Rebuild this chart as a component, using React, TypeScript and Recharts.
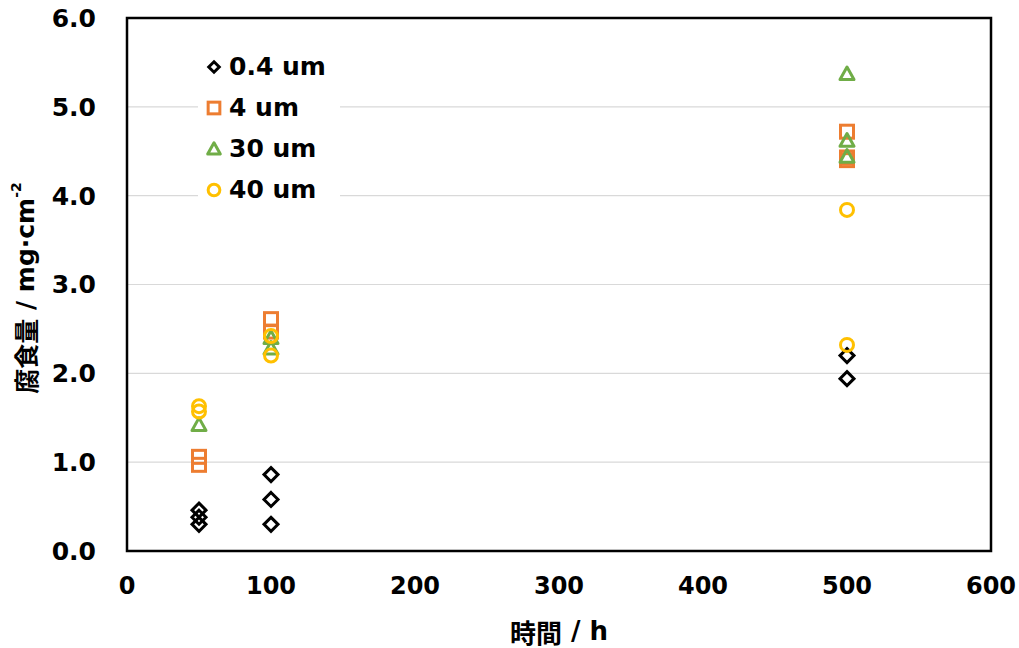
import {
  ScatterChart,
  Scatter,
  XAxis,
  YAxis,
  CartesianGrid,
  ReferenceArea,
} from "recharts";

const xTicks = [0, 100, 200, 300, 400, 500, 600];
const yTicks = [0, 1, 2, 3, 4, 5, 6];

const um04 = [
  { x: 50, y: 0.46 },
  { x: 50, y: 0.38 },
  { x: 50, y: 0.3 },
  { x: 100, y: 0.86 },
  { x: 100, y: 0.58 },
  { x: 100, y: 0.3 },
  { x: 500, y: 2.2 },
  { x: 500, y: 1.94 },
];

const um4 = [
  { x: 50, y: 1.06 },
  { x: 50, y: 0.97 },
  { x: 100, y: 2.61 },
  { x: 100, y: 2.47 },
  { x: 500, y: 4.72 },
  { x: 500, y: 4.43 },
  { x: 500, y: 4.4 },
];

const um30 = [
  { x: 50, y: 1.42 },
  { x: 100, y: 2.4 },
  { x: 100, y: 2.28 },
  { x: 500, y: 5.37 },
  { x: 500, y: 4.62 },
  { x: 500, y: 4.44 },
];

const um40 = [
  { x: 50, y: 1.63 },
  { x: 50, y: 1.57 },
  { x: 100, y: 2.42 },
  { x: 100, y: 2.2 },
  { x: 500, y: 3.84 },
  { x: 500, y: 2.32 },
];

type Kind = "diamond" | "square" | "triangle" | "circle";

const series: { name: string; data: { x: number; y: number }[]; color: string; kind: Kind }[] = [
  { name: "0.4 um", data: um04, color: "#000000", kind: "diamond" },
  { name: "4 um", data: um4, color: "#ED7D31", kind: "square" },
  { name: "30 um", data: um30, color: "#70AD47", kind: "triangle" },
  { name: "40 um", data: um40, color: "#FFC000", kind: "circle" },
];

function Marker({ cx, cy, color, kind, s = 1 }: { cx: number; cy: number; color: string; kind: Kind; s?: number }) {
  const sw = 3;
  if (kind === "diamond") {
    const r = 7 * s;
    return (
      <path
        d={`M${cx},${cy - r} L${cx + r},${cy} L${cx},${cy + r} L${cx - r},${cy} Z`}
        fill="none"
        stroke={color}
        strokeWidth={sw}
      />
    );
  }
  if (kind === "square") {
    const r = 6.5 * s;
    return <rect x={cx - r} y={cy - r} width={2 * r} height={2 * r} fill="none" stroke={color} strokeWidth={sw} />;
  }
  if (kind === "triangle") {
    const r = 7 * s;
    return (
      <path
        d={`M${cx},${cy - r} L${cx + r},${cy + r * 0.8} L${cx - r},${cy + r * 0.8} Z`}
        fill="none"
        stroke={color}
        strokeWidth={sw}
        strokeLinejoin="round"
      />
    );
  }
  return <circle cx={cx} cy={cy} r={6.5 * s} fill="none" stroke={color} strokeWidth={sw} />;
}

const latin = "'DejaVu Sans', Verdana, sans-serif";
const cjk = "'Noto Sans CJK JP', sans-serif";
const tickFont = { fontFamily: latin, fontWeight: 700, fill: "#000" };

function LegendBox() {
  return (
    <div style={{ position: "absolute", left: 198, top: 42, background: "#fff", padding: "4px 14px 4px 6px" }}>
      {series.map((s) => (
        <div key={s.name} style={{ display: "flex", alignItems: "center", height: 41 }}>
          <svg width={20} height={20} style={{ marginRight: 5 }}>
            <Marker cx={10} cy={10} color={s.color} kind={s.kind} s={s.kind === "diamond" ? 0.75 : 0.9} />
          </svg>
          <span style={{ fontFamily: latin, fontWeight: 700, fontSize: 25, color: "#000" }}>{s.name}</span>
        </div>
      ))}
    </div>
  );
}

export default function App() {
  return (
    <div style={{ position: "absolute", left: 0, top: 0, width: 1019, height: 648, background: "#fff" }}>
      <ScatterChart width={1019} height={648} margin={{ top: 18, right: 28, bottom: 0, left: 0 }}>
        <CartesianGrid vertical={false} stroke="#d9d9d9" strokeWidth={1.2} />
        <XAxis
          type="number"
          dataKey="x"
          domain={[0, 600]}
          ticks={xTicks}
          axisLine={false}
          tickLine={false}
          tickSize={0}
          tickMargin={26}
          height={97}
          tick={{ ...tickFont, fontSize: 24 }}
          label={(props: any) => {
            const vb = props.viewBox;
            const cx = vb.x + vb.width / 2;
            return (
              <text
                x={cx}
                y={631}
                textAnchor="middle"
                dominantBaseline="central"
                style={{ fontFamily: cjk, fontWeight: 700, fontSize: 26, fill: "#000" }}
              >
                時間
                <tspan fontFamily={latin}>{" / h"}</tspan>
              </text>
            );
          }}
        />
        <YAxis
          type="number"
          dataKey="y"
          domain={[0, 6]}
          ticks={yTicks}
          axisLine={false}
          tickLine={false}
          tickSize={0}
          tickMargin={31}
          width={127}
          tick={{ ...tickFont, fontSize: 25 }}
          tickFormatter={(v: number) => v.toFixed(1)}
          label={() => {
            const cy = 288;
            return (
              <text
                x={25}
                y={cy}
                transform={`rotate(-90, 25, ${cy})`}
                textAnchor="middle"
                dominantBaseline="central"
                style={{ fontFamily: cjk, fontWeight: 700, fontSize: 25, fill: "#000" }}
              >
                腐食量
                <tspan fontFamily={latin}>{" / mg·cm"}</tspan>
                <tspan fontFamily={latin} fontSize={14} dy={-9}>
                  -2
                </tspan>
              </text>
            );
          }}
        />
        <ReferenceArea x1={0} x2={600} y1={0} y2={6} fill="none" fillOpacity={0} stroke="#000" strokeWidth={2.5} />
        {series.map((s) => (
          <Scatter
            key={s.name}
            name={s.name}
            data={s.data}
            isAnimationActive={false}
            shape={(p: any) => <Marker cx={p.cx} cy={p.cy} color={s.color} kind={s.kind} />}
          />
        ))}
      </ScatterChart>
      <LegendBox />
    </div>
  );
}
